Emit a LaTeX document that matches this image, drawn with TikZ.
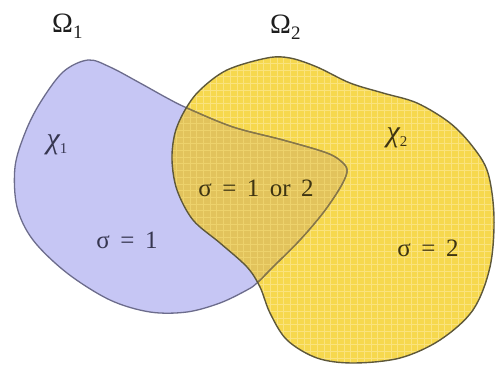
\documentclass[tikz,border=0pt]{standalone}
\usepackage{fontspec}
\setmainfont{Liberation Serif}
\definecolor{bluefill}{HTML}{C6C6F4}
\definecolor{blueline}{HTML}{6C6C8C}
\definecolor{yelfill}{HTML}{F6D84E}
\definecolor{overfill}{HTML}{E2C35C}
\definecolor{gridcol}{HTML}{FAE37E}
\definecolor{yelline}{HTML}{5E583A}
\definecolor{innerline}{HTML}{8A7840}
\definecolor{txt}{HTML}{1E1E1E}
\definecolor{txtblue}{HTML}{363650}
\definecolor{txtyel}{HTML}{3E3412}
\begin{document}
\begin{tikzpicture}[x=1pt,y=-1pt,
  lbl/.style={inner sep=0pt, font=\fontsize{25}{28}\selectfont},
  omg/.style={inner sep=0pt, anchor=base west, text=txt, font=\fontsize{28}{30}\selectfont}]
\def\sp{\hspace{0.42em}}
\def\blueshape{plot[smooth cycle, tension=0.55] coordinates {
 (88,60) (110,67) (140,83) (167,98) (187,108) (233,127) (283,140) (327,153)
 (343,163) (347,172) (340,188) (323,213) (300,240) (273,267) (257,283)
 (247,290) (220,303) (187,312) (150,312) (110,300) (67,273) (33,240)
 (17,207) (15,167) (25,133) (40,103) (63,72)}}
\def\yelshape{plot[smooth cycle, tension=0.55] coordinates {
 (267,58) (290,58) (317,67) (350,83) (383,93) (417,103) (450,123) (473,147)
 (488,173) (494,217) (490,267) (473,310) (440,340) (400,358) (353,363)
 (317,358) (287,340) (270,313) (260,287) (247,267) (220,243) (193,220)
 (177,190) (172,160) (175,133) (185,110) (200,90) (227,70)}}
\useasboundingbox (0,0) rectangle (496,370);
\fill[white] (0,0) rectangle (496,370);
% fills
\fill[bluefill] \blueshape;
\fill[yelfill] \yelshape;
\begin{scope}
  \clip \yelshape;
  \fill[overfill] \blueshape;
  \foreach \g in {0,...,50} {
    \draw[gridcol, line width=0.9pt] (170+\g*6.7,40) -- (170+\g*6.7,380);
    \draw[gridcol, line width=0.9pt] (160,50+\g*6.7) -- (500,50+\g*6.7);
  }
  \fill[overfill, opacity=0.5] \blueshape;
\end{scope}
% borders
\draw[blueline, line width=1.3pt] \blueshape;
\begin{scope}
  \clip \yelshape;
  \draw[innerline, line width=1.3pt] \blueshape;
\end{scope}
\draw[yelline, line width=1.4pt] \yelshape;
% labels
\node[omg] (om1) at (52,32) {Ω\raisebox{-6pt}{\fontsize{19}{21}\selectfont 1}};
\node[omg] (om2) at (270,33) {Ω\raisebox{-6pt}{\fontsize{19}{21}\selectfont 2}};
\node[lbl, text=txtblue] (chi1) at (57,145) {\fontsize{30}{32}\selectfont\itshape χ\raisebox{-5pt}{\fontsize{15}{17}\selectfont\upshape 1}};
\node[lbl, text=txtyel] (chi2) at (397,138) {\fontsize{30}{32}\selectfont\itshape χ\raisebox{-5pt}{\fontsize{15}{17}\selectfont\upshape 2}};
\node[lbl, text=txtyel] (s12) at (256,188) {σ\sp=\sp1\sp or\sp2};
\node[lbl, text=txtblue] (s1) at (127,240) {σ\sp=\sp1};
\node[lbl, text=txtyel] (s2) at (428,248) {σ\sp=\sp2};
\end{tikzpicture}
\end{document}
